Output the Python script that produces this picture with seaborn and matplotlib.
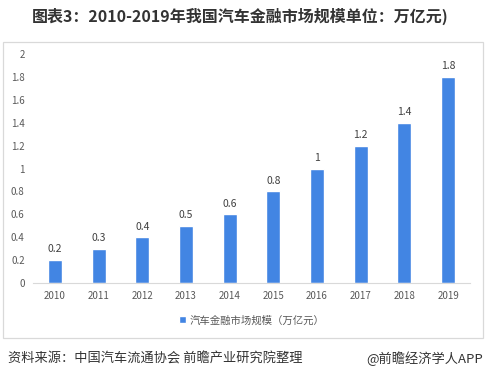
import matplotlib
matplotlib.use("Agg")
import matplotlib.pyplot as plt
from matplotlib.patches import Rectangle
import seaborn as sns
import pandas as pd

# data
years = ['2010', '2011', '2012', '2013', '2014', '2015', '2016', '2017', '2018', '2019']
market_size = [0.2, 0.3, 0.4, 0.5, 0.6, 0.8, 1.0, 1.2, 1.4, 1.8]
value_labels = ['0.2', '0.3', '0.4', '0.5', '0.6', '0.8', '1', '1.2', '1.4', '1.8']
y_ticks = [0, 0.2, 0.4, 0.6, 0.8, 1.0, 1.2, 1.4, 1.6, 1.8, 2.0]
y_tick_labels = ['0', '0.2', '0.4', '0.6', '0.8', '1', '1.2', '1.4', '1.6', '1.8', '2']

series_name = '汽车金融市场规模（万亿元）'
title = '图表3：2010-2019年我国汽车金融市场规模单位：万亿元)'
source = '资料来源：中国汽车流通协会 前瞻产业研究院整理'
credit = '@前瞻经济学人APP'

BAR_COLOR = '#4285e3'
TEXT_COLOR = '#595959'

sns.set_theme(style='white')
plt.rcParams['font.family'] = ['Noto Sans CJK SC', 'DejaVu Sans']

df = pd.DataFrame({'year': years, 'size': market_size})

fig = plt.figure(figsize=(4.86, 3.81), dpi=100)
ax = fig.add_axes([0.068, 0.257, 0.899, 0.601])

sns.barplot(data=df, x='year', y='size', color=BAR_COLOR, width=0.32,
            saturation=1, label=series_name, ax=ax)

for i, (v, lab) in enumerate(zip(market_size, value_labels)):
    ax.text(i, v + 0.05, lab, ha='center', va='bottom', fontsize=7.5,
            color='#404040')

ax.set_ylim(0, 2)
ax.set_yticks(y_ticks)
ax.set_yticklabels(y_tick_labels)
ax.set_xlabel('')
ax.set_ylabel('')
ax.tick_params(axis='both', labelsize=7, colors=TEXT_COLOR, length=0, pad=6)
for side in ['top', 'right', 'left']:
    ax.spines[side].set_visible(False)
ax.spines['bottom'].set_color('#d9d9d9')
ax.spines['bottom'].set_linewidth(0.8)
ax.grid(False)

leg = ax.legend(loc='center', bbox_to_anchor=(0.5, -0.162), frameon=False,
                fontsize=7.5, handlelength=0.7, handleheight=0.7,
                handletextpad=0.3)
for t in leg.get_texts():
    t.set_color(TEXT_COLOR)

# outer chart frame
fig.patches.append(Rectangle((3 / 486, 1 - 338 / 381), 480 / 486, 296 / 381,
                             transform=fig.transFigure, fill=False,
                             edgecolor='#d9d9d9', linewidth=0.9))

fig.text(32 / 486, 1 - 16 / 381, title, fontsize=11.5, fontweight='bold',
         color='#333333', va='center', ha='left')
fig.text(8 / 486, 1 - 359 / 381, source, fontsize=9.5, color='#333333',
         va='center', ha='left')
fig.text(483 / 486, 1 - 359 / 381, credit, fontsize=9.5, color='#333333',
         va='center', ha='right')

fig.savefig('out.png', dpi=100, facecolor='white')
